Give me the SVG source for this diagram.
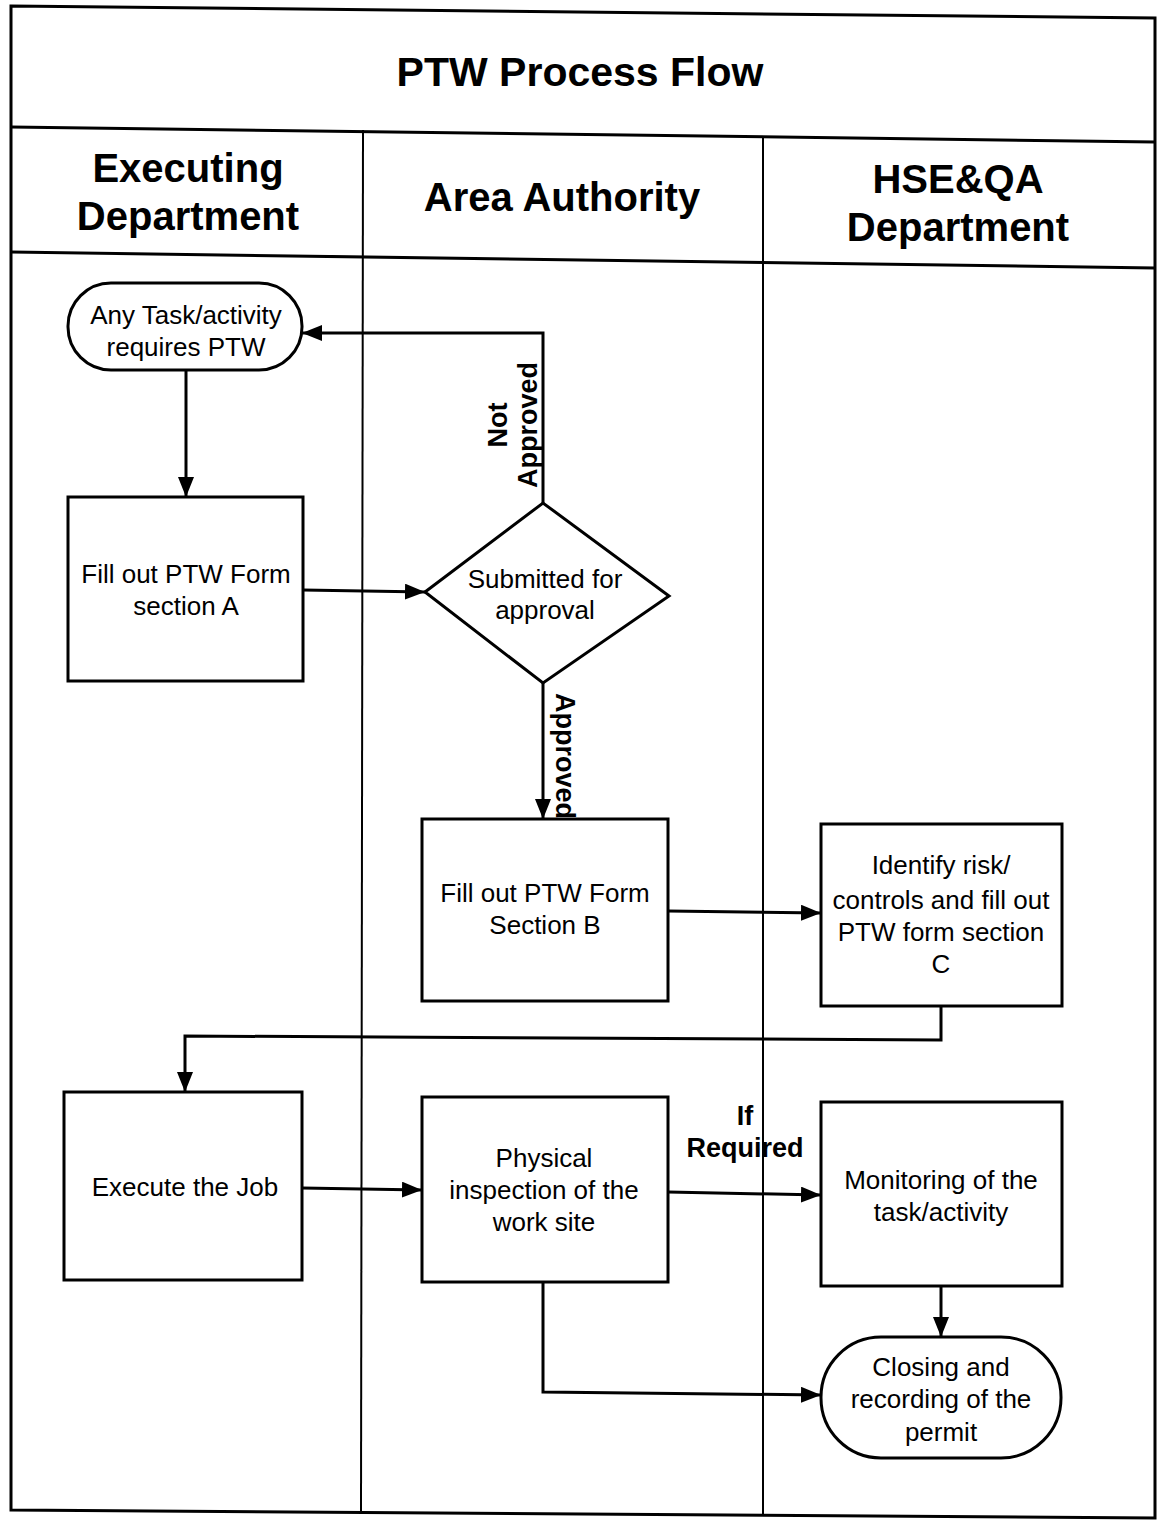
<svg xmlns="http://www.w3.org/2000/svg" width="1160" height="1532" viewBox="0 0 1160 1532">
<defs>
<marker id="arr" viewBox="0 0 20 16" refX="20" refY="8" markerWidth="20" markerHeight="16" markerUnits="userSpaceOnUse" orient="auto">
<path d="M0,0 L20,8 L0,16 Z" fill="#000"/>
</marker>
<style>
.frame{fill:none;stroke:#000;stroke-width:3}
.lane{fill:none;stroke:#000;stroke-width:2}
.node{fill:#fff;stroke:#000;stroke-width:3}
.conn{fill:none;stroke:#000;stroke-width:3;marker-end:url(#arr)}
.title{font-family:"Liberation Sans",Arial,sans-serif;font-size:41px;font-weight:bold;text-anchor:middle}
.head{font-family:"Liberation Sans",Arial,sans-serif;font-size:40px;font-weight:bold;text-anchor:middle}
.t{font-family:"Liberation Sans",Arial,sans-serif;font-size:26px;text-anchor:middle}
.lbl{font-family:"Liberation Sans",Arial,sans-serif;font-size:27px;font-weight:bold;text-anchor:middle}
</style>
</defs>
<rect width="1160" height="1532" fill="#fff"/>
<g id="frame">
<polygon class="frame" points="11,6 1155,18 1155,1518 11,1510"/>
<line class="frame" x1="11" y1="127" x2="1155" y2="142"/>
<line class="frame" x1="11" y1="252" x2="1155" y2="268"/>
<line class="lane" x1="363" y1="130" x2="361" y2="1512"/>
<line class="lane" x1="763" y1="138" x2="763" y2="1516"/>
<text class="title" x="580" y="86">PTW Process Flow</text>
<text class="head" x="188" y="182">Executing</text>
<text class="head" x="188" y="230">Department</text>
<text class="head" x="562" y="211">Area Authority</text>
<text class="head" x="958" y="193">HSE&amp;QA</text>
<text class="head" x="958" y="241">Department</text>
</g>
<g id="connectors">
<line class="conn" x1="186" y1="370" x2="186" y2="497"/>
<line class="conn" x1="303" y1="590" x2="425" y2="592"/>
<polyline class="conn" points="543,503 543,333 302,333"/>
<line class="conn" x1="543" y1="683" x2="543" y2="819"/>
<line class="conn" x1="668" y1="911" x2="821" y2="913"/>
<polyline class="conn" points="941,1006 941,1040 185,1036 185,1092"/>
<line class="conn" x1="302" y1="1188" x2="422" y2="1190"/>
<line class="conn" x1="668" y1="1192" x2="821" y2="1195"/>
<line class="conn" x1="941" y1="1286" x2="941" y2="1337"/>
<polyline class="conn" points="543,1282 543,1392 821,1395"/>
<text class="lbl" transform="translate(507,425) rotate(-90)">Not</text>
<text class="lbl" transform="translate(537,425) rotate(-90)">Approved</text>
<text class="lbl" transform="translate(556,756) rotate(90)">Approved</text>
<text class="lbl" x="745" y="1125">If</text>
<text class="lbl" x="745" y="1157">Required</text>
</g>
<g id="start">
<rect class="node" x="68" y="283" width="234" height="87" rx="43" ry="43"/>
<text class="t" x="186" y="324">Any Task/activity</text>
<text class="t" x="186" y="356">requires PTW</text>
</g>
<g id="formA">
<rect class="node" x="68" y="497" width="235" height="184"/>
<text class="t" x="186" y="583">Fill out PTW Form</text>
<text class="t" x="186" y="615">section A</text>
</g>
<g id="decision">
<polygon class="node" points="425,592 543,503 669,596 543,683"/>
<text class="t" x="545" y="588">Submitted for</text>
<text class="t" x="545" y="619">approval</text>
</g>
<g id="formB">
<rect class="node" x="422" y="819" width="246" height="182"/>
<text class="t" x="545" y="902">Fill out PTW Form</text>
<text class="t" x="545" y="934">Section B</text>
</g>
<g id="formC">
<rect class="node" x="821" y="824" width="241" height="182"/>
<text class="t" x="941" y="874">Identify risk/</text>
<text class="t" x="941" y="909">controls and fill out</text>
<text class="t" x="941" y="941">PTW form section</text>
<text class="t" x="941" y="973">C</text>
</g>
<g id="execute">
<rect class="node" x="64" y="1092" width="238" height="188"/>
<text class="t" x="185" y="1196">Execute the Job</text>
</g>
<g id="inspection">
<rect class="node" x="422" y="1097" width="246" height="185"/>
<text class="t" x="544" y="1167">Physical</text>
<text class="t" x="544" y="1199">inspection of the</text>
<text class="t" x="544" y="1231">work site</text>
</g>
<g id="monitoring">
<rect class="node" x="821" y="1102" width="241" height="184"/>
<text class="t" x="941" y="1189">Monitoring of the</text>
<text class="t" x="941" y="1221">task/activity</text>
</g>
<g id="closing">
<rect class="node" x="821" y="1337" width="240" height="121" rx="60" ry="60"/>
<text class="t" x="941" y="1376">Closing and</text>
<text class="t" x="941" y="1408">recording of the</text>
<text class="t" x="941" y="1441">permit</text>
</g>
</svg>
